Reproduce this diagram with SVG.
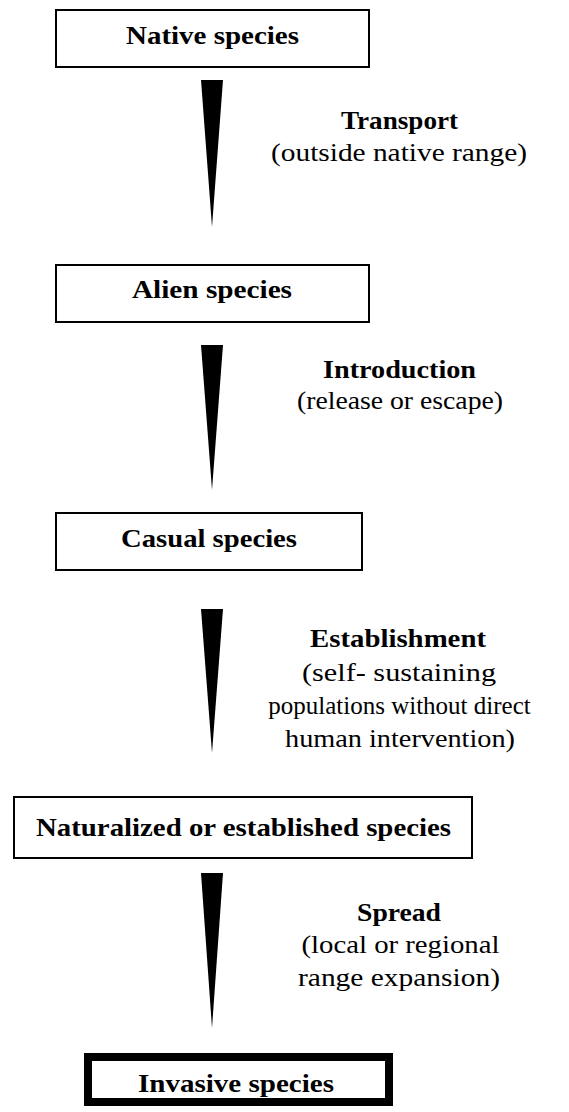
<svg xmlns="http://www.w3.org/2000/svg" width="569" height="1112" viewBox="0 0 569 1112">
  <style>
    .box { fill: #ffffff; stroke: #000000; stroke-width: 2; }
    .box-strong { fill: #ffffff; stroke: #000000; stroke-width: 8; }
    .title { font-family: "Liberation Serif", "Times New Roman", serif; font-weight: bold; font-size: 25px; fill: #000000; text-anchor: middle; }
    .step { font-family: "Liberation Serif", "Times New Roman", serif; font-weight: bold; font-size: 25px; fill: #000000; text-anchor: middle; }
    .note { font-family: "Liberation Serif", "Times New Roman", serif; font-size: 25px; fill: #000000; text-anchor: middle; }
    .wedge { fill: #000000; stroke: none; }
  </style>
  <rect width="569" height="1112" fill="#ffffff"/>

  <!-- tapering arrows between the stages -->
  <g id="connectors">
    <path class="wedge" d="M201,80 L223,80 L212,227 Z"/>
    <path class="wedge" d="M201,345 L223,345 L212,490 Z"/>
    <path class="wedge" d="M201,609 L223,609 L212,753 Z"/>
    <path class="wedge" d="M201,873 L223,873 L212,1028 Z"/>
  </g>

  <g id="native">
    <rect class="box" x="56" y="10" width="313" height="57"/>
    <text class="title" x="212.5" y="44" textLength="173" lengthAdjust="spacingAndGlyphs">Native species</text>
  </g>

  <g id="transport-label">
    <text class="step" x="399.5" y="129" textLength="117" lengthAdjust="spacingAndGlyphs">Transport</text>
    <text class="note" x="399" y="161" textLength="256" lengthAdjust="spacingAndGlyphs">(outside native range)</text>
  </g>

  <g id="alien">
    <rect class="box" x="56" y="265" width="313" height="57"/>
    <text class="title" x="212" y="298" textLength="160" lengthAdjust="spacingAndGlyphs">Alien species</text>
  </g>

  <g id="introduction-label">
    <text class="step" x="399.5" y="378" textLength="153" lengthAdjust="spacingAndGlyphs">Introduction</text>
    <text class="note" x="400" y="409" textLength="206" lengthAdjust="spacingAndGlyphs">(release or escape)</text>
  </g>

  <g id="casual">
    <rect class="box" x="56" y="513" width="306" height="57"/>
    <text class="title" x="209" y="547" textLength="176" lengthAdjust="spacingAndGlyphs">Casual species</text>
  </g>

  <g id="establishment-label">
    <text class="step" x="398" y="647" textLength="176" lengthAdjust="spacingAndGlyphs">Establishment</text>
    <text class="note" x="399" y="681" textLength="194" lengthAdjust="spacingAndGlyphs">(self- sustaining</text>
    <text class="note" x="399.5" y="714">populations without direct</text>
    <text class="note" x="400" y="747" textLength="230" lengthAdjust="spacingAndGlyphs">human intervention)</text>
  </g>

  <g id="naturalized">
    <rect class="box" x="14" y="797" width="458" height="61"/>
    <text class="title" x="243.5" y="836" textLength="415" lengthAdjust="spacingAndGlyphs">Naturalized or established species</text>
  </g>

  <g id="spread-label">
    <text class="step" x="399" y="921" textLength="84" lengthAdjust="spacingAndGlyphs">Spread</text>
    <text class="note" x="400.5" y="953" textLength="198" lengthAdjust="spacingAndGlyphs">(local or regional</text>
    <text class="note" x="399" y="986" textLength="202" lengthAdjust="spacingAndGlyphs">range expansion)</text>
  </g>

  <g id="invasive">
    <rect class="box-strong" x="88" y="1057" width="301" height="45"/>
    <text class="title" x="236" y="1092" textLength="196" lengthAdjust="spacingAndGlyphs">Invasive species</text>
  </g>
</svg>
